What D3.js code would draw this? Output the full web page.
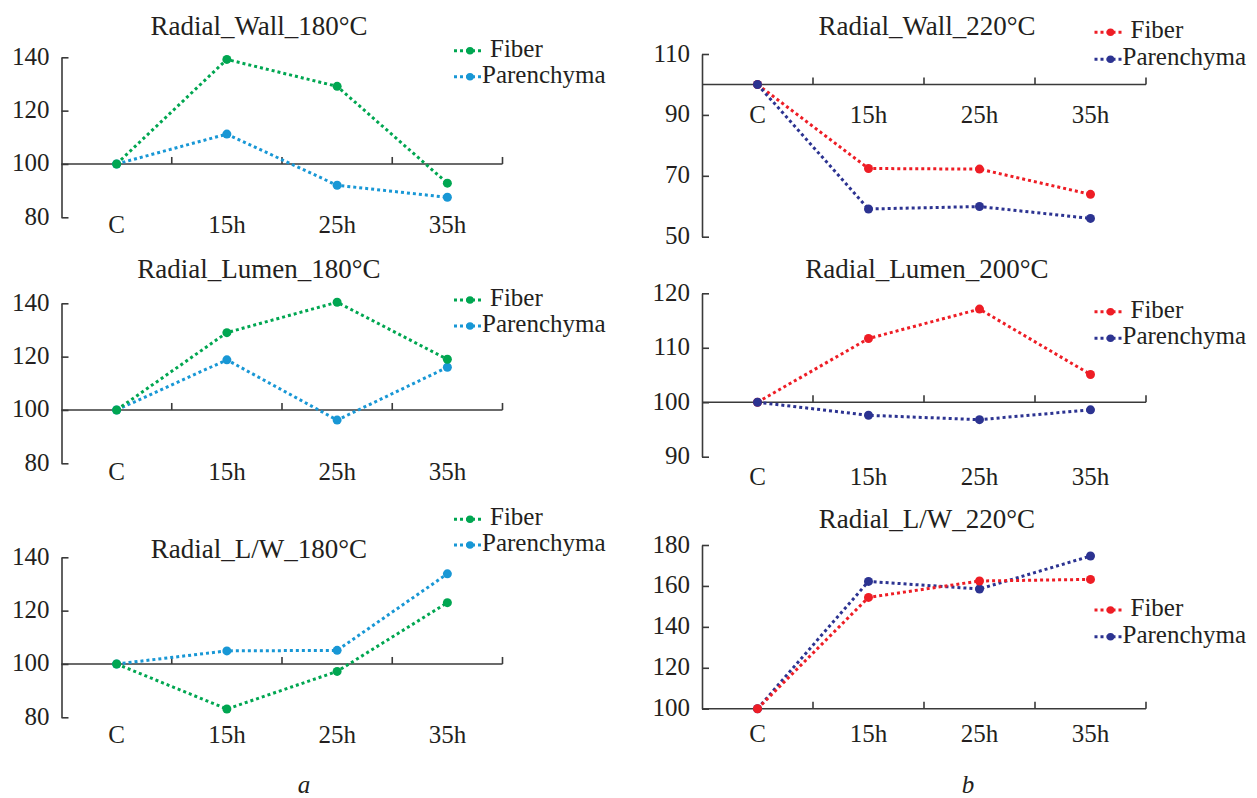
<!DOCTYPE html>
<html>
<head>
<meta charset="utf-8">
<script src="https://cdn.jsdelivr.net/npm/d3@7.9.0/dist/d3.min.js"></script>
<style>
  body { margin: 0; background: #fff; }
</style>
</head>
<body>
<svg id="chart" width="1257" height="798"></svg>
<script>
// categories on the x axis
const categories = ["C", "15h", "25h", "35h"];

// series values
const wall180Fiber = [100, 139.2, 129.1, 92.8];
const wall180Paren = [100, 111.2, 92.0, 87.5];
const lumen180Fiber = [100, 129.0, 140.4, 119.0];
const lumen180Paren = [100, 118.8, 96.2, 116.0];
const lw180Fiber = [100, 83.1, 97.2, 123.0];
const lw180Paren = [100, 104.9, 105.1, 133.8];
const wall220Fiber = [100, 72.4, 72.2, 63.9];
const wall220Paren = [100, 59.1, 59.9, 56.0];
const lumen200Fiber = [100, 111.7, 117.1, 105.1];
const lumen200Paren = [100, 97.6, 96.8, 98.6];
const lw220Fiber = [100, 154.4, 162.4, 163.2];
const lw220Paren = [100, 162.2, 158.5, 174.6];

// y tick labels
const ticks180 = [80, 100, 120, 140];
const ticksWall220 = [50, 70, 90, 110];
const ticksLumen200 = [90, 100, 110, 120];
const ticksLW220 = [100, 120, 140, 160, 180];

const seriesNames = ["Fiber", "Parenchyma"];
const green = "#00a651", lightBlue = "#1897d5", red = "#ee1d25", navy = "#2c3391";

// layout of the six panels (pixel positions)
const panels = [
  { title: "Radial_Wall_180", fiber: wall180Fiber, paren: wall180Paren, ticks: ticks180,
    colors: [green, lightBlue], x0: 61.5, x1: 502.5, yTop: 57.3, yBot: 217.3,
    titleX: 259, titleY: 35, legX: 470, legY: [50.7, 76.7], labelY: 233, fiberOnTop: true },
  { title: "Radial_Lumen_180", fiber: lumen180Fiber, paren: lumen180Paren, ticks: ticks180,
    colors: [green, lightBlue], x0: 61.5, x1: 502.5, yTop: 303.3, yBot: 463.3,
    titleX: 259, titleY: 278, legX: 470, legY: [300, 326], labelY: 480, fiberOnTop: true },
  { title: "Radial_L/W_180", fiber: lw180Fiber, paren: lw180Paren, ticks: ticks180,
    colors: [green, lightBlue], x0: 61.5, x1: 502.5, yTop: 557.3, yBot: 717.3,
    titleX: 259, titleY: 558, legX: 470, legY: [519.3, 545], labelY: 743, fiberOnTop: true },
  { title: "Radial_Wall_220", fiber: wall220Fiber, paren: wall220Paren, ticks: ticksWall220,
    colors: [red, navy], x0: 702, x1: 1146, yTop: 54, yBot: 236.7,
    titleX: 927, titleY: 35, legX: 1110.5, legY: [32.3, 59.3], labelY: 123, fiberOnTop: false },
  { title: "Radial_Lumen_200", fiber: lumen200Fiber, paren: lumen200Paren, ticks: ticksLumen200,
    colors: [red, navy], x0: 702, x1: 1146, yTop: 293.3, yBot: 456.7,
    titleX: 927, titleY: 278, legX: 1110.5, legY: [311.7, 338.3], labelY: 485, fiberOnTop: false },
  { title: "Radial_L/W_220", fiber: lw220Fiber, paren: lw220Paren, ticks: ticksLW220,
    colors: [red, navy], x0: 702, x1: 1146, yTop: 545, yBot: 708.7,
    titleX: 927, titleY: 528, legX: 1110.5, legY: [610, 636.7], labelY: 742, fiberOnTop: true }
];

const svg = d3.select("#chart");
const axisColor = "#3a3a3a";
const serif = '"Liberation Serif", Tinos, "Times New Roman", serif';

panels.forEach((p) => {
  const g = svg.append("g");
  const x = d3.scaleBand().domain(categories).range([p.x0, p.x1]).padding(0);
  const y = d3.scaleLinear()
    .domain([d3.min(p.ticks), d3.max(p.ticks)])
    .range([p.yBot, p.yTop]);
  const cx = (c) => x(c) + x.bandwidth() / 2;

  // y axis: ticks pointing inward
  const yAxis = g.append("g")
    .attr("transform", `translate(${p.x0},0)`)
    .call(d3.axisLeft(y).tickValues(p.ticks).tickSizeInner(-7).tickSizeOuter(0).tickPadding(12));
  yAxis.selectAll("path, line").attr("stroke", axisColor).attr("stroke-width", 1.6);
  yAxis.selectAll("text")
    .style("font-size", "25px")
    .attr("dy", "0.28em");

  // x axis crosses at 100
  const y100 = y(100);
  g.append("line")
    .attr("x1", p.x0).attr("x2", p.x1)
    .attr("y1", y100).attr("y2", y100)
    .attr("stroke", axisColor).attr("stroke-width", 1.6);
  g.selectAll(".xtick").data(categories).enter().append("line")
    .attr("x1", (c) => x(c) + x.bandwidth()).attr("x2", (c) => x(c) + x.bandwidth())
    .attr("y1", y100).attr("y2", y100 - 7)
    .attr("stroke", axisColor).attr("stroke-width", 1.6);
  g.selectAll(".xlab").data(categories).enter().append("text")
    .attr("x", cx).attr("y", p.labelY)
    .attr("text-anchor", "middle").style("font-size", "25px")
    .text((c) => c);

  // title
  g.append("text")
    .attr("x", p.titleX).attr("y", p.titleY)
    .attr("text-anchor", "middle").style("font-size", "27px")
    .text(p.title + "°C");

  // series
  const line = d3.line().x((d, i) => cx(categories[i])).y((d) => y(d));
  let series = [
    { name: seriesNames[0], values: p.fiber, color: p.colors[0] },
    { name: seriesNames[1], values: p.paren, color: p.colors[1] }
  ];
  const drawOrder = p.fiberOnTop ? [series[1], series[0]] : series;
  drawOrder.forEach((s) => {
    g.append("path")
      .attr("d", line(s.values))
      .attr("fill", "none")
      .attr("stroke", s.color)
      .attr("stroke-width", 3)
      .attr("stroke-dasharray", "3 3");
    g.selectAll(null).data(s.values).enter().append("circle")
      .attr("cx", (d, i) => cx(categories[i]))
      .attr("cy", (d) => y(d))
      .attr("r", 4.5)
      .attr("fill", s.color);
  });

  // legend
  series.forEach((s, i) => {
    const ly = p.legY[i];
    const textX = p.legX + (i === 0 ? 20 : 12);
    g.append("line")
      .attr("x1", p.legX - 16).attr("x2", Math.min(p.legX + 14, textX - 1))
      .attr("y1", ly).attr("y2", ly)
      .attr("stroke", s.color).attr("stroke-width", 3)
      .attr("stroke-dasharray", "3 3");
    g.append("circle").attr("cx", p.legX).attr("cy", ly).attr("r", 3.8).attr("fill", s.color);
    g.append("text")
      .attr("x", textX)
      .attr("y", ly + 6)
      .style("font-size", "25px")
      .text(s.name);
  });
});

// sub-figure letters
svg.append("text").attr("x", 304).attr("y", 793).attr("text-anchor", "middle")
  .style("font-size", "25px").style("font-style", "italic").text("a");
svg.append("text").attr("x", 968).attr("y", 793).attr("text-anchor", "middle")
  .style("font-size", "25px").style("font-style", "italic").text("b");

// every text in Times-like serif
svg.selectAll("text").style("font-family", serif).style("fill", "#231f20");
</script>
</body>
</html>
